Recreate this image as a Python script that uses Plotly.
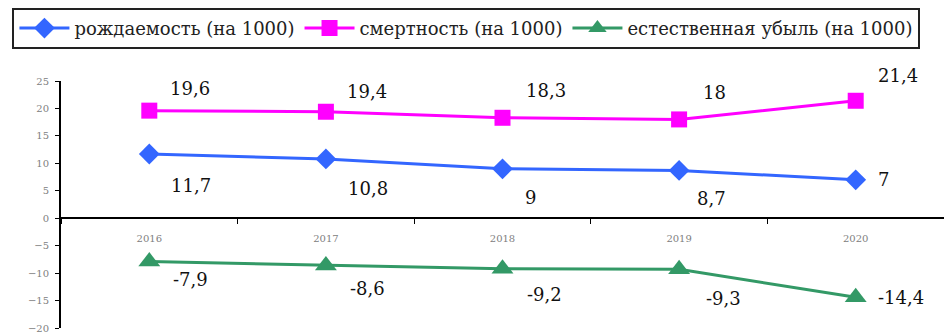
import plotly.graph_objects as go

years = ["2016", "2017", "2018", "2019", "2020"]
births = [11.7, 10.8, 9, 8.7, 7]
deaths = [19.6, 19.4, 18.3, 18, 21.4]
decline = [-7.9, -8.6, -9.2, -9.3, -14.4]
births_lbl = ["11,7", "10,8", "9", "8,7", "7"]
deaths_lbl = ["19,6", "19,4", "18,3", "18", "21,4"]
decline_lbl = ["-7,9", "-8,6", "-9,2", "-9,3", "-14,4"]
names = ["рождаемость (на 1000)", "смертность (на 1000)", "естественная убыль (на 1000)"]

SERIF = "DejaVu Serif"

fig = go.Figure()
fig.add_trace(go.Scatter(x=years, y=births, name=names[0], mode="lines+markers",
                         line=dict(color="#3366FF", width=3),
                         marker=dict(symbol="diamond", size=16, color="#3366FF")))
fig.add_trace(go.Scatter(x=years, y=deaths, name=names[1], mode="lines+markers",
                         line=dict(color="#FF00FF", width=3),
                         marker=dict(symbol="square", size=16, color="#FF00FF")))
fig.add_trace(go.Scatter(x=years, y=decline, name=names[2], mode="lines+markers",
                         line=dict(color="#339966", width=3),
                         marker=dict(symbol="triangle-up", size=19, color="#339966")))

# label offsets (pixels) relative to each point
label_style = [
    (deaths, deaths_lbl, [19, 19, 21, 22, 20], [22, 20, 27, 27, 25]),
    (births, births_lbl, [20, 20, 20, 16, 20], [-31, -30, -29, -28, 0]),
    (decline, decline_lbl, [22, 22, 22, 25, 20], [-18, -23, -26, -29, 0]),
]
for vals, labels, xs, ys in label_style:
    for i in range(len(years)):
        fig.add_annotation(x=i, y=vals[i], text=labels[i], showarrow=False,
                           xref="x", yref="y", xanchor="left", yanchor="middle",
                           xshift=xs[i], yshift=ys[i],
                           font=dict(family=SERIF, size=18, color="#111111"))

fig.update_layout(
    width=944, height=334,
    margin=dict(l=61, r=0, t=81, b=6),
    paper_bgcolor="white", plot_bgcolor="white",
    font=dict(family=SERIF),
    showlegend=True,
    legend=dict(orientation="h", x=-0.055, y=1.296, xanchor="left", yanchor="top",
                bordercolor="#222222", borderwidth=2, bgcolor="white",
                font=dict(family=SERIF, size=18, color="#222222"),
                itemwidth=50, tracegroupgap=0),
    xaxis=dict(type="category", range=[-0.5, 4.5], anchor="free", position=20 / 45,
               showline=True, linecolor="black", linewidth=2,
               ticks="outside", ticklen=5, tickcolor="black", tickson="boundaries",
               ticklabelstandoff=11,
               showgrid=False, zeroline=False,
               tickfont=dict(family=SERIF, size=10, color="#808080")),
    yaxis=dict(range=[-20, 25], dtick=5, showline=True, linecolor="black", linewidth=2,
               ticks="outside", ticklen=4, tickcolor="black", ticklabelstandoff=4,
               showgrid=False, zeroline=False,
               tickfont=dict(family=SERIF, size=10, color="#808080")),
)

fig.write_html("out.html")
